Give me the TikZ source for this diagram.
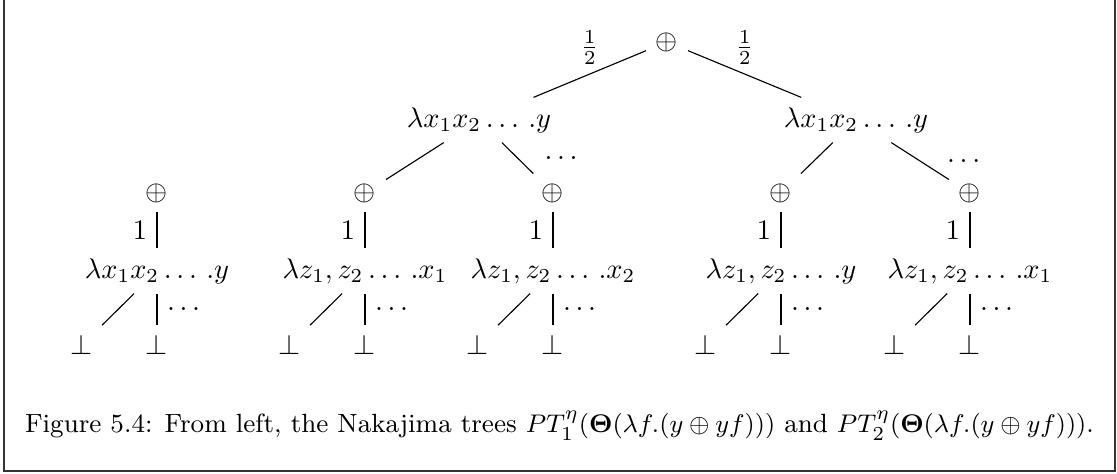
\documentclass[tikz,border=0pt]{standalone}
\usepackage{amsmath}

\begin{document}
\begin{tikzpicture}[
	x=0.0124cm, y=-0.0124cm,
	figframe/.style={ draw=black!80, line width=0.5pt },
	wide/.style={ right=6pt }
]

\useasboundingbox (0,0) rectangle (1117,474);
\draw[figframe] (4,0) -- (4,471) -- (1115,471) -- (1115,0);

\node at (667,42) (top) {$\oplus$};
\node at (479,120) (lA) {$\lambda x_1x_2\ldots\,.y$};
\node at (856,120) (lB) {$\lambda x_1x_2\ldots\,.y$};
\draw (top) -- node[above] {$\frac{1}{2}$} (lA);
\draw (top) -- node[above] {$\frac{1}{2}$} (lB);

\foreach \i/\x/\t in {1/157/{\lambda x_1x_2\ldots\,.y},
		2/365/{\lambda z_1,z_2\ldots\,.x_1},
		3/553/{\lambda z_1,z_2\ldots\,.x_2},
		4/781/{\lambda z_1,z_2\ldots\,.y},
		5/970/{\lambda z_1,z_2\ldots\,.x_1}}
{
	\node at (\x,193) (p\i) {$\oplus$};
	\node at (\x,271) (t\i) {$\t$};
	\node at (\x-75,345) (bl\i) {$\bot$};
	\node at (\x,345) (br\i) {$\bot$};
	\draw (p\i) -- node[left] {$1$} (t\i);
	\draw (t\i) -- (bl\i);
	\draw (t\i) -- node[right] {$\ldots$} (br\i);
}

\draw (lA) -- (p2);
\draw (lA) -- node[wide] {$\ldots$} (p3);
\draw (lB) -- (p4);
\draw (lB) -- node[wide] {$\ldots$} (p5);

\node at (559.5,426) (cap) [font=\fontsize{9.3pt}{11pt}\selectfont] {Figure 5.4: From left, the Nakajima trees $PT_1^\eta(\mathbf{\Theta}(\lambda f.(y\oplus yf)))$ and $PT_2^\eta(\mathbf{\Theta}(\lambda f.(y\oplus yf)))$.};

\end{tikzpicture}
\end{document}
